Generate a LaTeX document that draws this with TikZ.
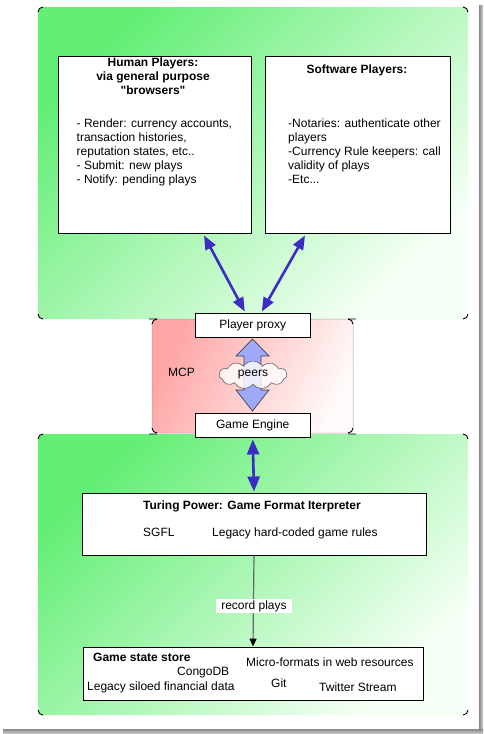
\documentclass[tikz,border=0pt]{standalone}
\usepackage{fontspec}
\setmainfont{Liberation Sans}[Ligatures=TeXOff]
\usetikzlibrary{arrows.meta,shapes.symbols,calc}
\definecolor{gstrong}{RGB}{100,238,118}
\definecolor{gpale}{RGB}{246,255,246}
\definecolor{mred}{RGB}{255,165,165}
\definecolor{mpale}{RGB}{255,250,250}
\definecolor{ablue}{RGB}{59,44,196}
\definecolor{fatblue}{RGB}{160,170,250}
\begin{document}
\begin{tikzpicture}[x=1pt,y=-1pt,
  font=\fontsize{12}{14}\selectfont,
  box/.style={draw=black, line width=0.9pt, fill=white, inner sep=0},
  txt/.style={inner sep=0, anchor=base west},
  ctxt/.style={inner sep=0, anchor=base},
  bluearrow/.style={draw=ablue, line width=2.6pt,
    {Triangle[length=14pt,width=11pt]}-{Triangle[length=14pt,width=11pt]}},
  panelgreen/.style={top color=gstrong, bottom color=gpale, shading angle=45, rounded corners=5pt},
  cornermark/.style={draw=black, line width=0.9pt, rounded corners=5pt}]
\useasboundingbox (0,0) rectangle (483,734);
\fill[white] (0,0) rectangle (483,734);
% screenshot shadow
\shade[left color=gray!95, right color=gray!35] (479,5) rectangle (483,733);
\shade[top color=gray!95, bottom color=gray!35] (3,729) rectangle (483,734);

% green panels
\shade[panelgreen] (38,7) rectangle (468,319);
\shade[panelgreen] (38,434) rectangle (468,715);
% MCP panel
\shade[top color=mred, bottom color=mpale, shading angle=65, rounded corners=5pt] (152,319) rectangle (353,433);
\draw[black!35, line width=0.5pt, rounded corners=5pt] (152,319) rectangle (353,433);

% corner marks
\begin{scope}
\clip (35,4) rectangle (43,12) (463,4) rectangle (471,12) (35,314) rectangle (43,322) (463,314) rectangle (471,322)
      (35,431) rectangle (43,439) (463,431) rectangle (471,439) (35,710) rectangle (43,718) (463,710) rectangle (471,718)
      (149,316) rectangle (157,324) (348,316) rectangle (356,324) (149,428) rectangle (157,436) (348,428) rectangle (356,436);
\draw[cornermark] (38,7) rectangle (468,319);
\draw[cornermark] (38,434) rectangle (468,715);
\draw[cornermark] (152,319) rectangle (353,433);
\end{scope}

% player boxes
\node[box, minimum width=193pt, minimum height=177pt] (human) at (154.5,144.5) {};
\node[box, minimum width=185pt, minimum height=177pt] (software) at (357.5,144.5) {};

\node[ctxt] (ht1) at (153,66.5) {\bfseries Human Players:};
\node[ctxt] (ht2) at (153,80.5) {\bfseries via general purpose};
\node[ctxt] (ht3) at (153,94.5) {\bfseries "browsers"};
\node[txt] (hb1) at (76.5,127) {- Render: currency accounts,};
\node[txt] (hb2) at (76.5,141) {transaction histories,};
\node[txt] (hb3) at (76.5,155) {reputation states, etc..};
\node[txt] (hb4) at (76.5,169) {- Submit: new plays};
\node[txt] (hb5) at (76.5,183) {- Notify: pending plays};
\node[ctxt] (st1) at (357,73) {\bfseries Software Players:};
\node[txt] (sb1) at (288,127) {-Notaries: authenticate other};
\node[txt] (sb2) at (288,141) {players};
\node[txt] (sb3) at (288,155) {-Currency Rule keepers: call};
\node[txt] (sb4) at (288,169) {validity of plays};
\node[txt] (sb5) at (288,183) {-Etc...};

% MCP
\node[box, minimum width=115pt, minimum height=24pt] (proxy) at (252.75,325) {Player proxy};
\node[box, minimum width=115pt, minimum height=24pt] (engine) at (252.75,425) {Game Engine};
\node[txt] (mcp) at (168,376.5) {MCP};

% fat double arrow
\draw[fill=fatblue, draw=black!75, line width=0.7pt, line join=miter]
  (252.5,339) -- (269,356) -- (261,356) -- (261,390) -- (269,390) -- (252.5,411)
  -- (236,390) -- (244,390) -- (244,356) -- (236,356) -- cycle;
\node[cloud, cloud puffs=11, cloud puff arc=115, aspect=2.6, draw=black!70, line width=0.5pt,
  fill=white, fill opacity=0.8, text opacity=1, minimum width=68pt, minimum height=28pt, inner sep=0] (peers) at (253,375) {peers};

% blue arrows
\draw[bluearrow] ([xshift=49.5pt,yshift=-2pt]human.south) -- ([xshift=-8pt,yshift=1pt]proxy.north);
\draw[bluearrow] ([xshift=-52.5pt,yshift=-2pt]software.south) -- ([xshift=9pt,yshift=1pt]proxy.north);

% lower panel
\node[box, minimum width=344pt, minimum height=62pt] (turing) at (254,524) {};
\node[txt] (tt) at (143,509) {\bfseries Turing Power: Game Format Iterpreter};
\node[txt] (sgfl) at (143,536) {SGFL};
\node[txt] (legacy) at (212,536) {Legacy hard-coded game rules};
\draw[draw=ablue, line width=2.6pt, {Triangle[length=15pt,width=12pt]}-{Triangle[length=15pt,width=12pt]}]
  ([yshift=-2pt]engine.south) -- ([yshift=1pt]turing.north);

\node[box, minimum width=340pt, minimum height=53pt] (store) at (253,673.5) {};
\draw[draw=black!60, line width=1.2pt, -{Triangle[length=8pt,width=7pt,color=black]}]
  (turing.south) -- (store.north);
\node[fill=white, inner xsep=5pt, inner ysep=1.5pt] (rec) at (254,606) {record plays};

\node[txt] (gs) at (93,661.5) {\bfseries Game state store};
\node[txt] (congo) at (177,675.5) {CongoDB};
\node[txt] (micro) at (246,666) {Micro-formats in web resources};
\node[txt] (silo) at (87,690.5) {Legacy siloed financial data};
\node[txt] (git) at (271,687.5) {Git};
\node[txt] (tw) at (319,691.5) {Twitter Stream};
\end{tikzpicture}
\end{document}
